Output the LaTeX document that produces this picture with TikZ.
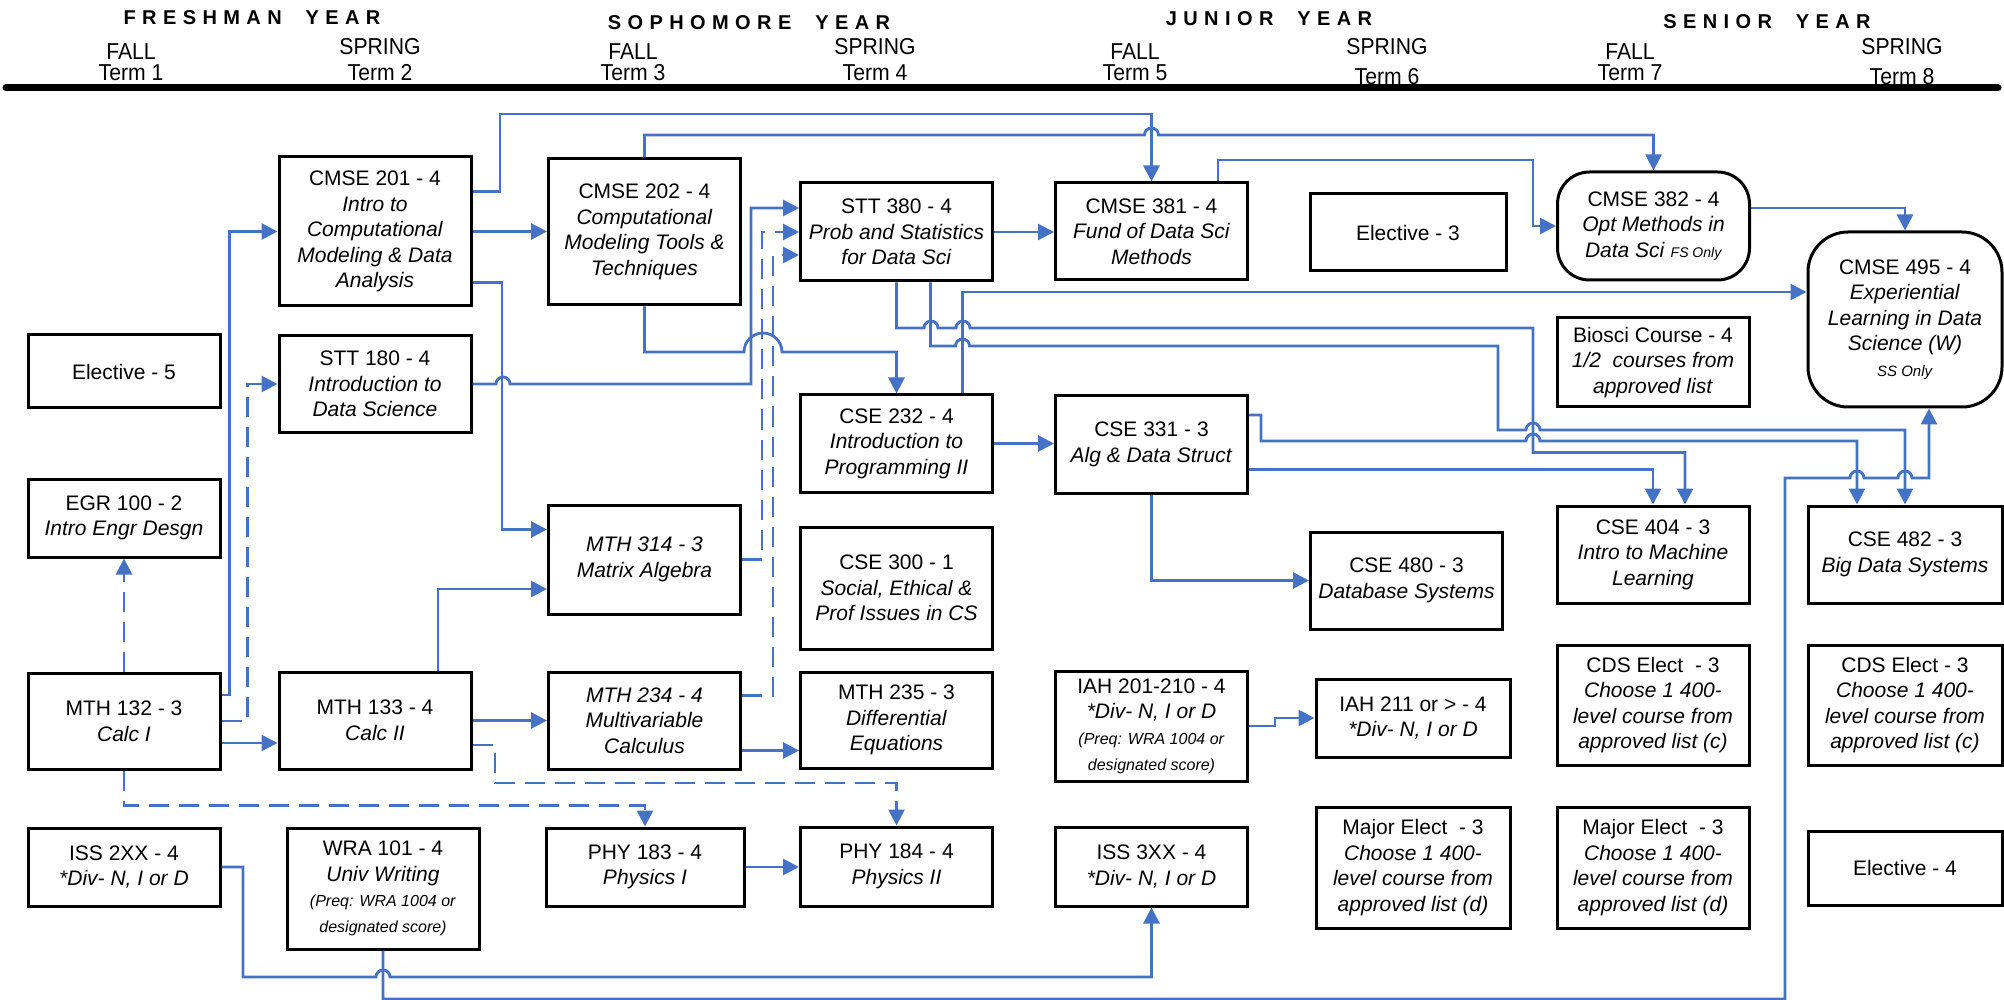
\documentclass[tikz,border=0pt]{standalone}
\usepackage{fontspec}
\setmainfont{Liberation Sans}
\usetikzlibrary{arrows.meta,calc}
\definecolor{linkblue}{RGB}{68,114,196}
\newcommand\hopover{arc[start angle=180,end angle=360,radius=7]}
\newcommand\smalltxt[2][8pt]{{\fontsize{#1}{12.8pt}\selectfont #2}}
\begin{document}
\begin{tikzpicture}[x=0.5pt,y=-0.5pt,>={Triangle[length=8pt,width=8pt]},
  course/.style={draw,line width=1.5pt,align=center,inner sep=0pt,minimum width=96pt,
    font=\fontsize{10.5pt}{12.8pt}\selectfont},
  roundcourse/.style={course,rounded corners=16pt},
  link/.style={draw=linkblue,line width=1.4pt,->},
  dashlink/.style={link,dash pattern=on 10pt off 5pt},
  term/.style={inner sep=0pt,font=\fontsize{11.5pt}{12pt}\selectfont\addfontfeatures{FakeStretch=0.92}},
  year/.style={inner sep=0pt,font=\fontsize{10pt}{11pt}\selectfont\bfseries\addfontfeatures{LetterSpace=32}}]
\useasboundingbox (0,0) rectangle (2004,1000);
\foreach \x/\y/\n in {252/18/FRESHMAN,749/23/SOPHOMORE,1269/19/JUNIOR,1767/22/SENIOR}
  \node[year] (year\n) at (\x,\y) {\n\ \ YEAR};
\foreach \x/\s/\sy/\t/\ty in {131/FALL/52/1/73,380/SPRING/47/2/73,633/FALL/52/3/73,875/SPRING/47/4/73,
    1135/FALL/52/5/73,1387/SPRING/47/6/77,1630/FALL/52/7/73,1902/SPRING/47/8/77}{
  \node[term] (season\t) at (\x,\sy) {\s};
  \node[term] (term\t) at (\x,\ty) {Term \t};
}
\draw[line width=3.5pt,line cap=round] (6,88) -- (1998,88);

\node[course,minimum height=36.5pt] (elec5) at (124,371.5) {Elective - 5};
\node[course,minimum height=39pt] (egr100) at (124,518) {EGR 100 - 2\\\textit{Intro Engr Desgn}};
\node[course,minimum height=48pt] (mth132) at (124,721) {MTH 132 - 3\\\textit{Calc I}};
\node[course,minimum height=39pt] (iss2xx) at (124,867) {ISS 2XX - 4\\\textit{*Div- N, I or D}};

\node[course,minimum height=74.5pt] (cmse201) at (375,231.5) {CMSE 201 - 4\\\textit{Intro to}\\\textit{Computational}\\\textit{Modeling \& Data}\\\textit{Analysis}};
\node[course,minimum height=48pt] (stt180) at (375,384) {STT 180 - 4\\\textit{Introduction to}\\\textit{Data Science}};
\node[course,minimum height=48.5pt] (mth133) at (375,720.5) {MTH 133 - 4\\\textit{Calc II}};
\node[course,minimum height=60.5pt] (wra101) at (383,888.5) {WRA 101 - 4\\\textit{Univ Writing}\\\smalltxt{\textit{(Preq: WRA 1004 or}}\\\smalltxt{\textit{designated score)}}};

\node[course,minimum height=73pt] (cmse202) at (644.5,232) {CMSE 202 - 4\\\textit{Computational}\\\textit{Modeling Tools \&}\\\textit{Techniques}};
\node[course,minimum height=54.5pt] (mth314) at (644.5,559.5) {\textit{MTH 314 - 3}\\\textit{Matrix Algebra}};
\node[course,minimum height=48.5pt] (mth234) at (644.5,720.5) {\textit{MTH 234 - 4}\\\textit{Multivariable}\\\textit{Calculus}};
\node[course,minimum width=99pt,minimum height=39pt] (phy183) at (645,867) {PHY 183 - 4\\\textit{Physics I}};

\node[course,minimum height=49pt] (stt380) at (896.5,232) {STT 380 - 4\\\textit{Prob and Statistics}\\\textit{for Data Sci}};
\node[course,minimum height=48.5pt] (cse232) at (896.5,443.5) {CSE 232 - 4\\\textit{Introduction to}\\\textit{Programming II}};
\node[course,minimum height=61pt] (cse300) at (896.5,588) {CSE 300 - 1\\\textit{Social, Ethical \&}\\\textit{Prof Issues in CS}};
\node[course,minimum height=48pt] (mth235) at (896.5,720) {MTH 235 - 3\\\textit{Differential}\\\textit{Equations}};
\node[course,minimum height=39.5pt] (phy184) at (896.5,866.5) {PHY 184 - 4\\\textit{Physics II}};

\node[course,minimum height=48.5pt] (cmse381) at (1151.5,231.5) {CMSE 381 - 4\\\textit{Fund of Data Sci}\\\textit{Methods}};
\node[course,minimum height=48.5pt] (cse331) at (1151.5,444.5) {CSE 331 - 3\\\textit{Alg \& Data Struct}};
\node[course,minimum height=55pt] (iah201) at (1151.5,726) {IAH 201-210 - 4\\\textit{*Div- N, I or D}\\\smalltxt{\textit{(Preq: WRA 1004 or}}\\\smalltxt{\textit{designated score)}}};
\node[course,minimum height=39.5pt] (iss3xx) at (1151.5,866.5) {ISS 3XX - 4\\\textit{*Div- N, I or D}};

\node[course,minimum width=98pt,minimum height=38.5pt] (elec3) at (1408,232.5) {Elective - 3};
\node[course,minimum height=48.5pt] (cse480) at (1406.5,580.5) {CSE 480 - 3\\\textit{Database Systems}};
\node[course,minimum width=97pt,minimum height=39pt] (iah211) at (1413,718) {IAH 211 or > - 4\\\textit{*Div- N, I or D}};
\node[course,minimum width=97pt,minimum height=60.5pt] (major1) at (1413,867.5) {Major Elect\ \ - 3\\\textit{Choose 1 400-}\\\textit{level course from}\\\textit{approved list (d)}};

\node[roundcourse,minimum height=54pt] (cmse382) at (1653.5,226) {CMSE 382 - 4\\\textit{Opt Methods in}\\\textit{Data Sci }\smalltxt[7pt]{\textit{FS Only}}};
\node[course,minimum height=44.5pt] (biosci) at (1653,362.5) {Biosci Course - 4\\\textit{1/2\ \ courses from}\\\textit{approved list}};
\node[course,minimum height=48.5pt] (cse404) at (1653,554.5) {CSE 404 - 3\\\textit{Intro to Machine}\\\textit{Learning}};
\node[course,minimum height=60pt] (cds1) at (1653,705) {CDS Elect\ \ - 3\\\textit{Choose 1 400-}\\\textit{level course from}\\\textit{approved list (c)}};
\node[course,minimum height=60.5pt] (major2) at (1653,867.5) {Major Elect\ \ - 3\\\textit{Choose 1 400-}\\\textit{level course from}\\\textit{approved list (d)}};

\node[roundcourse,rounded corners=20pt,minimum width=97pt,minimum height=87.5pt] (cmse495) at (1905,319.5) {CMSE 495 - 4\\\textit{Experiential}\\\textit{Learning in Data}\\\textit{Science (W)}\\\smalltxt[7.5pt]{\textit{SS Only}}};
\node[course,minimum width=97pt,minimum height=48.5pt] (cse482) at (1905,554.5) {CSE 482 - 3\\\textit{Big Data Systems}};
\node[course,minimum width=97pt,minimum height=60pt] (cds2) at (1905,705) {CDS Elect - 3\\\textit{Choose 1 400-}\\\textit{level course from}\\\textit{approved list (c)}};
\node[course,minimum width=97pt,minimum height=37pt] (elec4) at (1905,868) {Elective - 4};

\draw[link] ($(mth132.east)+(0,-26)$) -| ($(cmse201.west)+(-48,0)$) -- (cmse201.west);
\draw[dashlink] (mth132.east) -| ($(stt180.west)+(-30,0)$) -- (stt180.west);
\draw[link] ($(mth132.east)+(0,22)$) -- ($(mth133.west)+(0,22.5)$);
\draw[dashlink] (mth132.north) -- (egr100.south);
\draw[dashlink] (mth132.south) -- ++(0,35) -| (phy183.north);
\draw[link] (cmse201.east) -- (cmse201.east -| cmse202.west);
\draw[link] ($(cmse201.east)+(0,-40)$) -| (500,114) -| (cmse381.north);
\draw[link] ($(cmse201.east)+(0,51)$) -| ($(mth314.west)+(-45,-30)$) -- ($(mth314.west)+(0,-30)$);
\draw[link] (stt180.east) -- (496,384) \hopover -- (751,384) |- ($(stt380.west)+(0,-24)$);
\draw[link] (cmse202.north) |- (1144.5,135) \hopover -| (cmse382.north);
\draw[link] (cmse202.south) |- (744,352) arc[start angle=180,end angle=360,radius=19] -| (cse232.north);
\draw[link] ($(cmse381.north)+(66.5,0)$) |- (1533,160) |- (cmse382.west);
\draw[link] (stt380.east) -- (stt380.east -| cmse381.west);
\draw[dashlink] (mth314.east) -| ($(stt380.west)+(-37,0)$) -- (stt380.west);
\draw[dashlink] ($(mth234.east)+(0,-25)$) -| ($(stt380.west)+(-26,23)$) -- ($(stt380.west)+(0,23)$);
\draw[link] (stt380.south) |- (924,328) \hopover -- (956,328) \hopover -- (1533,328)
  |- ($(cse404.north)+(32,-52)$) -- ($(cse404.north)+(32,0)$);
\draw[link] ($(stt380.south)+(34,0)$) |- (955.5,346) \hopover -- (1498,346) |- (1526,430) \hopover -| (cse482.north);
\draw[link] ($(cse232.north)+(66,0)$) |- ($(cmse495.west)+(0,-27.5)$);
\draw[link] (cse232.east) -- (cse232.east -| cse331.west);
\draw[link] ($(cse331.east)+(0,-29.5)$) -| (1261,441) -- (1526,441) \hopover -| ($(cse482.north)+(-48,0)$);
\draw[link] ($(cse331.east)+(0,25)$) -| (cse404.north);
\draw[link] (cse331.south) |- (cse480.west);
\draw[link] (mth133.east) -- (mth133.east -| mth234.west);
\draw[link] ($(mth133.north)+(63,0)$) |- ($(mth314.west)+(0,29.5)$);
\draw[dashlink] ($(mth133.east)+(0,24.5)$) -| (495,783) -| (phy184.north);
\draw[link] ($(mth234.east)+(0,30)$) -- ($(mth235.west)+(0,30.5)$);
\draw[link] (phy183.east) -- (phy183.east -| phy184.west);
\draw[link] (iah201.east) -- ++(26,0) |- (iah211.west);
\draw[link] ($(cmse382.east)+(0,-18)$) -| (cmse495.north);
\draw[link] (iss2xx.east) -| (243,977) -- (376,977) \hopover -| (iss3xx.south);
\draw[link] (wra101.south) -- (383,999) -| (1785,478) -- (1850,478) \hopover -- (1898,478) \hopover
  -| ($(cmse495.south)+(24,0)$);
\end{tikzpicture}
\end{document}
